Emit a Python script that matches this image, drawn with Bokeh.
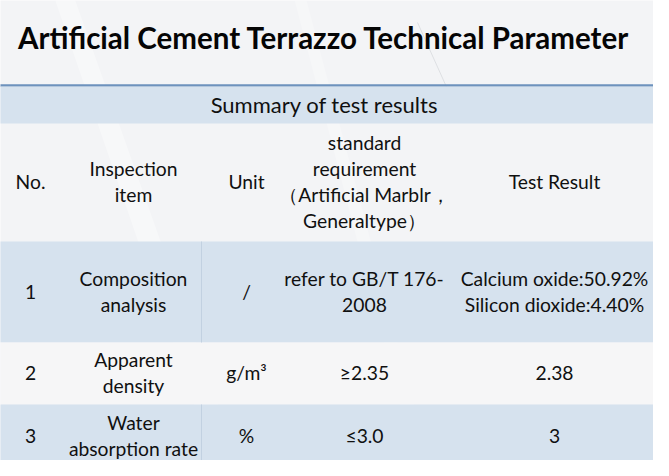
from bokeh.plotting import figure
from bokeh.models import Range1d, ColumnDataSource
from bokeh.core.properties import value
from bokeh.embed import file_html
from bokeh.resources import INLINE

# ---- data ----
title_text = "Artificial Cement Terrazzo Technical Parameter"
summary_text = "Summary of test results"
headers = ["No.", "Inspection\nitem", "Unit",
           "standard\nrequirement\n\uff08Artificial Marblr\uff0c\nGeneraltype\uff09",
           "Test Result"]
nos = ["1", "2", "3"]
items = ["Composition\nanalysis", "Apparent\ndensity", "Water\nabsorption rate"]
units = ["/", "g/m\u00b3", "%"]
standards = ["refer to GB/T 176-\n2008", "\u22652.35", "\u22643.0"]
results = ["Calcium oxide:50.92%\nSilicon dioxide:4.40%", "2.38", "3"]

# ---- layout (reference pixel coordinates) ----
W, H = 653, 460
col_x = [38, 141, 254, 372, 562]
row_y = [299, 380, 443]
header_y = 189
row_bounds = [(249, 350), (350, 412), (412, 474)]
row_fill = ["#d6e2ee", "#f6f6f7", "#d6e2ee"]

FONT = "Lato"
TXT = "#101010"
FS = "19.3px"
LH = 1.12

p = figure(width=W, height=H, output_backend="svg", toolbar_location=None,
           x_range=Range1d(8, 8 + W), y_range=Range1d(8 + H, 8),
           min_border=0)
p.axis.visible = False
p.grid.visible = False
p.outline_line_color = None
p.background_fill_color = "#f3f4f6"
p.border_fill_color = "#f3f4f6"

# faint diagonal streaks in background
p.patch([60, 80, 250, 225], [0, 0, 480, 480], fill_color="white", fill_alpha=0.35, line_color=None)
p.patch([300, 312, 440, 425], [0, 0, 480, 480], fill_color="white", fill_alpha=0.25, line_color=None)
p.line([425, 470], [30, 130], line_color="#c8cbd0", line_alpha=0.5, line_width=1)

# blue rules
p.segment(x0=[0, 0], y0=[3, 93], x1=[669, 669], y1=[3, 93], line_color="#6d92bd", line_width=2.5)

# summary band
p.quad(left=[0], right=[663], top=[94], bottom=[131], fill_color="#d6e2ee", line_color=None)

# row bands
rows = ColumnDataSource(dict(left=[0, 0, 0], right=[663, 663, 663],
                             top=[b[0] for b in row_bounds],
                             bottom=[b[1] for b in row_bounds],
                             color=row_fill))
p.quad(left="left", right="right", top="top", bottom="bottom", fill_color="color",
       line_color=None, source=rows)
# faint column divider
p.segment(x0=[209, 209], y0=[249, 412], x1=[209, 209], y1=[350, 474],
          line_color="#c2d1e1", line_width=1)

# title
p.text(x=[331.5], y=[45], text=[title_text], text_font=value(FONT), text_font_style="bold",
       text_font_size="29.5px", text_align="center", text_baseline="middle", text_color="#050505")
p.text(x=[332], y=[111.5], text=[summary_text], text_font=value(FONT),
       text_font_size="22px", text_align="center", text_baseline="middle", text_color=TXT)

# header
p.text(x=col_x, y=[header_y] * 5, text=headers, text_font=value(FONT),
       text_font_size=FS, text_align="center", text_baseline="middle",
       text_line_height=LH, text_color=TXT)

# body
for col, vals in zip(col_x, [nos, items, units, standards, results]):
    p.text(x=[col] * 3, y=row_y, text=vals, text_font=value(FONT),
           text_font_size=FS, text_align="center", text_baseline="middle",
           text_line_height=LH, text_color=TXT)

open("out.html", "w").write(file_html(p, INLINE))
